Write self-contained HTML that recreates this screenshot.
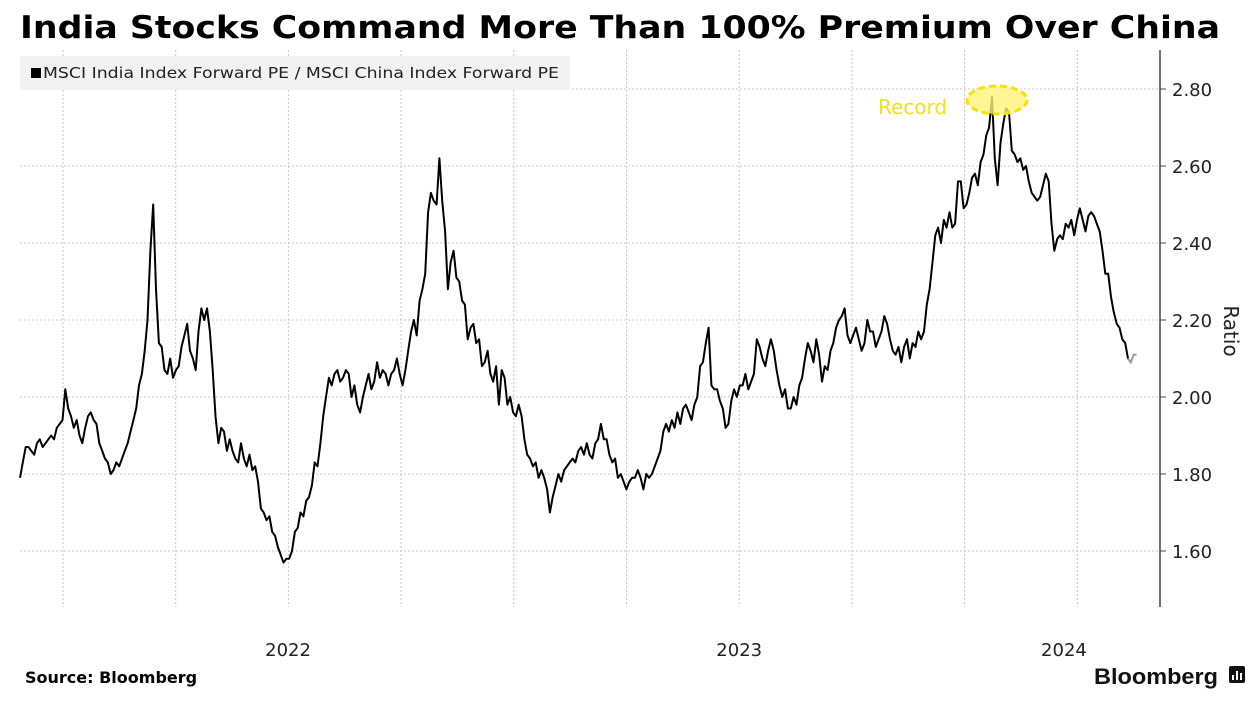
<!DOCTYPE html>
<html><head><meta charset="utf-8"><style>
html,body{margin:0;padding:0;background:#fff;}
svg{display:block;font-family:"DejaVu Sans","Liberation Sans",sans-serif;}
</style></head><body>
<svg id="chart" width="1260" height="704" viewBox="0 0 1260 704">
<text x="20" y="38" font-size="31" font-weight="bold" fill="#000" textLength="1200" lengthAdjust="spacingAndGlyphs">India Stocks Command More Than 100% Premium Over China</text>
<g id="grid"></g>
<rect x="20" y="56" width="550" height="34" fill="#f2f2f2"/>
<rect x="31" y="68" width="10" height="10" fill="#000"/>
<text x="43" y="78" font-size="15" fill="#222" textLength="516" lengthAdjust="spacingAndGlyphs">MSCI India Index Forward PE / MSCI China Index Forward PE</text>
<line x1="1160" y1="50" x2="1160" y2="607" stroke="#444" stroke-width="1.5"/>
<g id="yticks"></g>
<text transform="translate(1224,331) rotate(90)" font-size="20" fill="#222" text-anchor="middle">Ratio</text>
<g id="xticks"></g>
<g id="series"></g>
<ellipse cx="997" cy="100" rx="30" ry="14" fill="#fff27a" fill-opacity="0.8" stroke="#f5e400" stroke-width="3" stroke-dasharray="7,4"/>
<text x="878" y="114" font-size="20" fill="#efe21a">Record</text>
<text x="25" y="683" font-size="16" font-weight="bold" fill="#000">Source: Bloomberg</text>
<text x="1094" y="684" font-size="22" font-weight="bold" fill="#111" font-family="Liberation Sans" textLength="124" lengthAdjust="spacingAndGlyphs">Bloomberg</text>
<rect x="1229" y="666" width="16" height="17" rx="2" fill="#111"/>
<path d="M1233 680V675M1237 680V671M1241 680V673" stroke="#fff" stroke-width="2"/>
</svg>
<script>
const yTicks = [1.60, 1.80, 2.00, 2.20, 2.40, 2.60, 2.80];
const xTickLabels = ['2022', '2023', '2024'];
const xTickIndex = [94.6, 253.8, 368.4];
const ratioValues = [1.79,1.83,1.87,1.87,1.86,1.85,1.88,1.89,1.87,1.88,1.89,1.90,1.89,1.92,1.93,1.94,2.02,1.97,1.95,1.92,1.94,1.90,1.88,1.92,1.95,1.96,1.94,1.93,1.88,1.86,1.84,1.83,1.80,1.81,1.83,1.82,1.84,1.86,1.88,1.91,1.94,1.97,2.03,2.06,2.12,2.20,2.38,2.50,2.28,2.14,2.13,2.07,2.06,2.10,2.05,2.07,2.08,2.13,2.16,2.19,2.12,2.10,2.07,2.17,2.23,2.20,2.23,2.17,2.07,1.95,1.88,1.92,1.91,1.86,1.89,1.86,1.84,1.83,1.88,1.84,1.82,1.85,1.81,1.82,1.78,1.71,1.70,1.68,1.69,1.65,1.64,1.61,1.59,1.57,1.58,1.58,1.60,1.65,1.66,1.70,1.69,1.73,1.74,1.77,1.83,1.82,1.88,1.95,2.00,2.05,2.03,2.06,2.07,2.04,2.05,2.07,2.06,2.00,2.03,1.98,1.96,2.00,2.03,2.06,2.02,2.04,2.09,2.05,2.07,2.06,2.03,2.06,2.07,2.10,2.06,2.03,2.07,2.12,2.17,2.20,2.16,2.25,2.28,2.32,2.48,2.53,2.51,2.50,2.62,2.51,2.43,2.28,2.35,2.38,2.31,2.30,2.25,2.24,2.15,2.18,2.19,2.14,2.15,2.08,2.09,2.12,2.06,2.04,2.08,1.98,2.07,2.05,1.98,2.00,1.96,1.95,1.98,1.95,1.89,1.85,1.84,1.82,1.83,1.79,1.81,1.79,1.76,1.70,1.74,1.77,1.80,1.78,1.81,1.82,1.83,1.84,1.83,1.86,1.87,1.85,1.88,1.85,1.84,1.88,1.89,1.93,1.89,1.89,1.85,1.83,1.84,1.79,1.80,1.78,1.76,1.78,1.79,1.79,1.81,1.79,1.76,1.80,1.79,1.80,1.82,1.84,1.86,1.91,1.93,1.91,1.94,1.92,1.96,1.93,1.97,1.98,1.96,1.94,1.98,2.00,2.08,2.09,2.14,2.18,2.03,2.02,2.02,1.99,1.97,1.92,1.93,1.99,2.02,2.00,2.03,2.03,2.06,2.02,2.04,2.06,2.15,2.13,2.10,2.08,2.12,2.15,2.12,2.07,2.03,2.00,2.02,1.97,1.97,2.00,1.98,2.03,2.05,2.10,2.14,2.12,2.09,2.15,2.11,2.04,2.08,2.07,2.12,2.14,2.18,2.20,2.21,2.23,2.16,2.14,2.16,2.18,2.15,2.12,2.14,2.20,2.17,2.17,2.13,2.15,2.17,2.21,2.19,2.15,2.12,2.11,2.13,2.09,2.13,2.15,2.10,2.14,2.13,2.17,2.15,2.17,2.24,2.28,2.35,2.42,2.44,2.40,2.46,2.44,2.48,2.44,2.45,2.56,2.56,2.49,2.50,2.53,2.57,2.58,2.55,2.61,2.63,2.68,2.70,2.78,2.62,2.55,2.66,2.71,2.75,2.74,2.64,2.63,2.61,2.62,2.59,2.60,2.56,2.53,2.52,2.51,2.52,2.55,2.58,2.56,2.45,2.38,2.41,2.42,2.41,2.45,2.44,2.46,2.42,2.46,2.49,2.46,2.43,2.47,2.48,2.47,2.45,2.43,2.38,2.32,2.32,2.26,2.22,2.19,2.18,2.15,2.14,2.10];
const latestValues = [2.10, 2.09, 2.11, 2.11];

const NS = 'http://www.w3.org/2000/svg';
const X0 = 20, X1 = 1128;
const N = ratioValues.length;
const xScale = i => X0 + i * (X1 - X0) / (N - 1);
const yScale = v => 89 + (2.80 - v) * 385;
function mk(tag, attrs, parent) {
  const e = document.createElementNS(NS, tag);
  for (const k in attrs) e.setAttribute(k, attrs[k]);
  parent.appendChild(e);
  return e;
}
const grid = document.getElementById('grid');
yTicks.forEach(v => {
  const l = mk('line', {x1: 20, x2: 1160, y1: yScale(v), y2: yScale(v), stroke: '#c8c8c8', 'stroke-dasharray': '2,2'}, grid);
  
  
});
for (let k = 0; k < 10; k++) {
  const gx = 63 + k * 112.7;
  const l = mk('line', {x1: gx, x2: gx, y1: 50, y2: 607, stroke: '#c8c8c8', 'stroke-dasharray': '2,2'}, grid);
  
  
}
const yt = document.getElementById('yticks');
yTicks.forEach(v => {
  const y = yScale(v);
  mk('line', {x1: 1160, x2: 1166, y1: y, y2: y, stroke: '#444'}, yt);
  const t = mk('text', {x: 1172, y: y + 7, 'font-size': 18, fill: '#222'}, yt);
  t.textContent = v.toFixed(2);
  
  
});
const xt = document.getElementById('xticks');
xTickLabels.forEach((s, i) => {
  const t = mk('text', {x: xScale(xTickIndex[i]), y: 656, 'font-size': 18, fill: '#222', 'text-anchor': 'middle'}, xt);
  t.textContent = s;
  
  
});
const sg = document.getElementById('series');
const d = ratioValues.map((v, i) => (i ? 'L' : 'M') + xScale(i).toFixed(1) + ' ' + yScale(v).toFixed(1)).join('');
const p = mk('path', {d: d, fill: 'none', stroke: '#000', 'stroke-width': 2, 'stroke-linejoin': 'round'}, sg);


const step = (X1 - X0) / (N - 1);
const d2 = latestValues.map((v, i) => (i ? 'L' : 'M') + (X1 + i * step).toFixed(1) + ' ' + yScale(v).toFixed(1)).join('');
const p2 = mk('path', {d: d2, fill: 'none', stroke: '#999', 'stroke-width': 2}, sg);


</script>
</body></html>
